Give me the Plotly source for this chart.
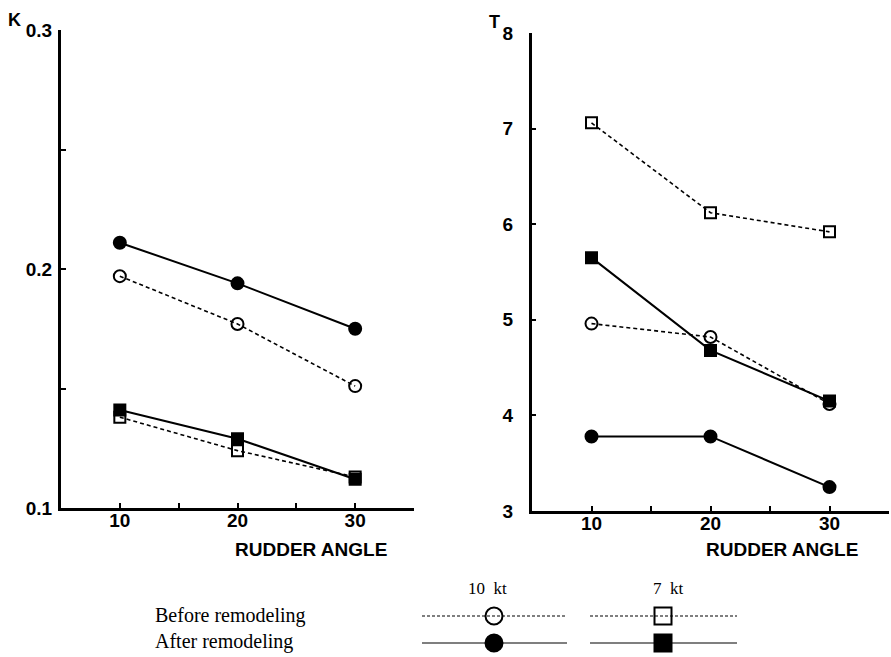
import plotly.graph_objects as go

W, H = 891, 657

rudder = [10, 20, 30]
K_before_10kt = [0.197, 0.177, 0.151]
K_after_10kt = [0.211, 0.194, 0.175]
K_before_7kt = [0.138, 0.124, 0.113]
K_after_7kt = [0.141, 0.129, 0.112]
T_before_10kt = [4.96, 4.82, 4.12]
T_after_10kt = [3.78, 3.78, 3.25]
T_before_7kt = [7.06, 6.12, 5.92]
T_after_7kt = [5.65, 4.68, 4.15]

K_ticks = [0.1, 0.2, 0.3]
T_ticks = [3, 4, 5, 6, 7, 8]
x_ticks = [10, 20, 30]

SANS = "Liberation Sans"
SERIF = "Liberation Serif"
BLACK = "black"

fig = go.Figure()


def series(x, y, before, circle, xa, ya):
    sym = ("circle" if circle else "square") + ("-open" if before else "")
    fig.add_trace(go.Scatter(
        x=x, y=y, xaxis=xa, yaxis=ya, mode="lines+markers",
        line=dict(color=BLACK, width=1.6 if before else 2, dash="4px,3px" if before else "solid"),
        marker=dict(symbol=sym, size=12 if circle else 11, color=BLACK,
                    line=dict(color=BLACK, width=2)),
        showlegend=False, cliponaxis=False))


# left panel (K)
series(rudder, K_before_10kt, True, True, "x", "y")
series(rudder, K_before_7kt, True, False, "x", "y")
series(rudder, K_after_10kt, False, True, "x", "y")
series(rudder, K_after_7kt, False, False, "x", "y")
# right panel (T)
series(rudder, T_before_10kt, True, True, "x2", "y2")
series(rudder, T_before_7kt, True, False, "x2", "y2")
series(rudder, T_after_10kt, False, True, "x2", "y2")
series(rudder, T_after_7kt, False, False, "x2", "y2")

# legend samples drawn on a hidden full-figure axis in pixel units
leg_rows = [("Before remodeling", True, 616), ("After remodeling", False, 643)]
leg_cols = [("10  kt", True, 422, 567, 494), ("7  kt", False, 590, 737, 663)]
for label, before, yy in leg_rows:
    for name, circle, x0, x1, xm in leg_cols:
        fig.add_trace(go.Scatter(
            x=[x0, x1], y=[yy, yy], xaxis="x3", yaxis="y3", mode="lines",
            line=dict(color=BLACK, width=1.2, dash="3px,2px" if before else "solid"),
            showlegend=False, hoverinfo="skip"))
        sym = ("circle" if circle else "square") + ("-open" if before else "")
        fig.add_trace(go.Scatter(
            x=[xm], y=[yy], xaxis="x3", yaxis="y3", mode="markers",
            marker=dict(symbol=sym, size=17, color=BLACK, line=dict(color=BLACK, width=2)),
            showlegend=False, hoverinfo="skip"))

tickfont = dict(family=SANS, size=19, color=BLACK, weight="bold")
common_x = dict(range=[5, 35], tickvals=x_ticks, showline=True, linewidth=3, linecolor=BLACK,
                ticks="inside", ticklen=5, tickwidth=1.5, tickcolor=BLACK, showgrid=False,
                zeroline=False, tickfont=tickfont, ticklabelstandoff=-7, automargin=False,
                minor=dict(tickvals=[15, 25], ticks="inside", ticklen=5, tickwidth=1.5, tickcolor=BLACK))

fig.update_layout(
    width=W, height=H, margin=dict(l=0, r=0, t=0, b=0, autoexpand=False),
    paper_bgcolor="white", plot_bgcolor="rgba(0,0,0,0)", showlegend=False,
    xaxis=dict(domain=[61 / W, 414 / W], anchor="y", **common_x),
    yaxis=dict(domain=[1 - 508 / H, 1 - 30 / H], anchor="x", range=[0.1, 0.3],
               tickvals=K_ticks, ticktext=["0.1", "0.2", "0.3"], showline=True, linewidth=3,
               linecolor=BLACK, ticks="inside", ticklen=5, tickwidth=1.5, tickcolor=BLACK,
               showgrid=False, zeroline=False, tickfont=tickfont, ticklabelstandoff=2,
               automargin=False,
               minor=dict(tickvals=[0.15, 0.25], ticks="inside", ticklen=5, tickwidth=1.5,
                          tickcolor=BLACK)),
    xaxis2=dict(domain=[532 / W, 889 / W], anchor="y2", **common_x),
    yaxis2=dict(domain=[1 - 511 / H, 1 - 33 / H], anchor="x2", range=[3, 8],
                tickvals=T_ticks, showline=True, linewidth=3, linecolor=BLACK,
                ticks="inside", ticklen=4, tickwidth=1.5, tickcolor=BLACK,
                showgrid=False, zeroline=False, tickfont=tickfont, ticklabelstandoff=12,
                automargin=False),
    xaxis3=dict(domain=[0, 1], anchor="y3", range=[0, W], visible=False, fixedrange=True,
                automargin=False),
    yaxis3=dict(domain=[0, 1], anchor="x3", range=[H, 0], visible=False, fixedrange=True,
                automargin=False),
)

ann = [
    dict(text="K", x=14 / W, y=1 - 20 / H, font=dict(family=SANS, size=18, color=BLACK, weight="bold")),
    dict(text="T", x=494 / W, y=1 - 22 / H, font=dict(family=SANS, size=18, color=BLACK, weight="bold")),
    dict(text="RUDDER ANGLE", x=389 / W, y=1 - 549 / H, xanchor="right",
         font=dict(family=SANS, size=19, color=BLACK, weight="bold")),
    dict(text="RUDDER ANGLE", x=860 / W, y=1 - 549 / H, xanchor="right",
         font=dict(family=SANS, size=19, color=BLACK, weight="bold")),
    dict(text="Before remodeling", x=153 / W, y=1 - 615 / H, xanchor="left",
         font=dict(family=SERIF, size=20, color=BLACK)),
    dict(text="After remodeling", x=153 / W, y=1 - 641 / H, xanchor="left",
         font=dict(family=SERIF, size=20, color=BLACK)),
    dict(text="10  kt", x=488 / W, y=1 - 588 / H, font=dict(family=SERIF, size=17, color=BLACK)),
    dict(text="7  kt", x=668 / W, y=1 - 588 / H, font=dict(family=SERIF, size=17, color=BLACK)),
]
for a in ann:
    a.setdefault("xanchor", "center")
    fig.add_annotation(xref="paper", yref="paper", yanchor="middle", showarrow=False, **a)

post = (
    "document.documentElement.style.margin='0';"
    "document.documentElement.style.overflow='hidden';"
    "document.body.style.margin='0';"
    "document.body.style.overflow='hidden';"
    "var gd=document.getElementsByClassName('plotly-graph-div')[0];"
    "gd.style.position='fixed';gd.style.left='0px';gd.style.top='0px';"
)
fig.write_html("out.html", post_script=post, config={"displayModeBar": False})
